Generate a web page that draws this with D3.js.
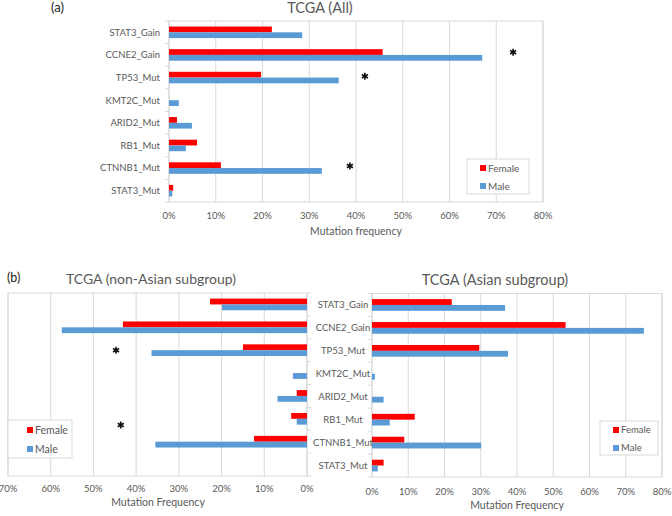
<!DOCTYPE html>
<html>
<head>
<meta charset="utf-8">
<script src="https://cdn.jsdelivr.net/npm/d3@7"></script>
<style>
  body { margin: 0; background: #fff; }
  text { font-family: Lato, "Open Sans", sans-serif; }
</style>
</head>
<body>
<div id="chart"></div>
<script>
// categories, top to bottom
const categories = ["STAT3_Gain", "CCNE2_Gain", "TP53_Mut", "KMT2C_Mut", "ARID2_Mut", "RB1_Mut", "CTNNB1_Mut", "STAT3_Mut"];
const series = ["Female", "Male"];
const colors = ["#ff0000", "#5b9bd5"];

// (a) TCGA (All)
const allFemale = [0.220, 0.457, 0.197, 0.000, 0.017, 0.060, 0.111, 0.009];
const allMale   = [0.285, 0.670, 0.363, 0.021, 0.049, 0.036, 0.327, 0.007];
// (b) non-Asian subgroup
const nonAsianFemale = [0.227, 0.431, 0.150, 0.000, 0.024, 0.037, 0.124, 0.000];
const nonAsianMale   = [0.199, 0.574, 0.364, 0.033, 0.069, 0.024, 0.355, 0.000];
// (b) Asian subgroup
const asianFemale = [0.220, 0.534, 0.296, 0.000, 0.000, 0.118, 0.089, 0.032];
const asianMale   = [0.367, 0.750, 0.375, 0.008, 0.032, 0.049, 0.301, 0.016];

const ticksAll = [0, 0.1, 0.2, 0.3, 0.4, 0.5, 0.6, 0.7, 0.8];
const ticksNonAsian = [0, 0.1, 0.2, 0.3, 0.4, 0.5, 0.6, 0.7];
const ticksAsian = [0, 0.1, 0.2, 0.3, 0.4, 0.5, 0.6, 0.7, 0.8];

// significance marks (value axis position, row, shift in rows)
const starsAll = [
  { cat: "CCNE2_Gain", value: 0.736, shift: -0.12 },
  { cat: "TP53_Mut", value: 0.419, shift: -0.06 },
  { cat: "CTNNB1_Mut", value: 0.387, shift: -0.09 }
];
const starsNonAsian = [
  { cat: "TP53_Mut", value: 0.447, shift: 0 },
  { cat: "RB1_Mut", value: 0.436, shift: 0.27 }
];
const starsAsian = [];

const grey = "#595959";
const gridColor = "#d9d9d9";

const svg = d3.select("#chart").append("svg")
  .attr("width", 672)
  .attr("height", 516);

function drawPanel(p) {
  const x = d3.scaleLinear().domain([0, p.max]).range(p.reversed ? [p.right, p.left] : [p.left, p.right]);
  const y = d3.scaleBand().domain(categories).range([p.top, p.bottom]);
  const sub = d3.scaleBand().domain(series).range([0, y.bandwidth()]).paddingOuter(0.96);
  const g = svg.append("g");

  // plot area border + gridlines
  g.append("rect")
    .attr("x", p.left).attr("y", p.top)
    .attr("width", p.right - p.left).attr("height", p.bottom - p.top)
    .attr("fill", "none").attr("stroke", gridColor);

  g.selectAll(".grid").data(p.ticks).enter().append("line")
    .attr("x1", d => x(d)).attr("x2", d => x(d))
    .attr("y1", p.top).attr("y2", p.bottom)
    .attr("stroke", gridColor);

  // category axis ticks
  const edges = categories.map(c => y(c)).concat([p.bottom]);
  const tickDir = p.reversed ? 4 : -4;
  g.selectAll(".ctick").data(edges).enter().append("line")
    .attr("x1", x(0)).attr("x2", x(0) + tickDir)
    .attr("y1", d => d).attr("y2", d => d)
    .attr("stroke", gridColor);

  // bars
  const rows = categories.map((c, i) => ({ cat: c, vals: [p.female[i], p.male[i]] }));
  const row = g.selectAll(".row").data(rows).enter().append("g")
    .attr("transform", d => "translate(0," + y(d.cat) + ")");
  row.selectAll("rect").data(d => d.vals.map((v, k) => ({ v: v, s: series[k], k: k }))).enter().append("rect")
    .attr("x", d => Math.min(x(0), x(d.v)))
    .attr("width", d => Math.abs(x(d.v) - x(0)))
    .attr("y", d => sub(d.s))
    .attr("height", sub.bandwidth())
    .attr("fill", d => colors[d.k]);

  // value tick labels
  g.selectAll(".vlabel").data(p.ticks).enter().append("text")
    .attr("x", d => x(d)).attr("y", p.tickY)
    .attr("text-anchor", "middle")
    .attr("font-size", 9.5).attr("fill", grey)
    .text(d => d3.format(".0%")(d));

  // axis title
  g.append("text")
    .attr("x", p.axisTitle[0]).attr("y", p.axisTitle[1])
    .attr("text-anchor", "middle")
    .attr("font-size", 10.5).attr("fill", grey)
    .text(p.axisText);

  // category labels
  if (p.catX != null) {
    g.selectAll(".clabel").data(categories).enter().append("text")
      .attr("x", p.catX).attr("y", d => y(d) + y.bandwidth() / 2)
      .attr("dy", "0.35em")
      .attr("text-anchor", p.catAnchor)
      .attr("font-size", p.catSize).attr("fill", grey)
      .text(d => d);
  }

  // chart title
  g.append("text")
    .attr("x", p.title[0]).attr("y", p.title[1])
    .attr("text-anchor", "middle")
    .attr("font-size", p.titleSize).attr("fill", grey)
    .text(p.titleText);

  // stars
  g.selectAll(".star").data(p.stars).enter().append("path")
    .attr("d", d3.symbol(d3.symbolAsterisk, 34))
    .attr("transform", d => "translate(" + x(d.value) + "," + (y(d.cat) + y.bandwidth() * (0.5 + d.shift)) + ")")
    .attr("fill", "none").attr("stroke", "#111").attr("stroke-width", 1.6);

  // legend
  const L = p.legend;
  const lg = g.append("g").attr("transform", "translate(" + L.x + "," + L.y + ")");
  lg.append("rect").attr("width", L.w).attr("height", L.h)
    .attr("fill", "#fff").attr("stroke", gridColor);
  series.forEach((s, k) => {
    lg.append("rect")
      .attr("x", L.sx).attr("y", L.rowY[k] - 3)
      .attr("width", 6).attr("height", 6)
      .attr("fill", colors[k]);
    lg.append("text")
      .attr("x", L.sx + 8).attr("y", L.rowY[k])
      .attr("dy", "0.35em")
      .attr("font-size", L.fs).attr("fill", grey)
      .text(s);
  });
}

// (a)
drawPanel({
  left: 169, right: 543, top: 21, bottom: 202, max: 0.8, reversed: false,
  ticks: ticksAll, female: allFemale, male: allMale, stars: starsAll,
  tickY: 219, axisTitle: [356, 235], axisText: "Mutation frequency",
  catX: 160, catAnchor: "end", catSize: 9.5,
  title: [320, 13], titleText: "TCGA (All)", titleSize: 14.5,
  legend: { x: 467, y: 159, w: 62, h: 35, sx: 13, rowY: [9, 27], fs: 10 }
});

// (b) left: non-Asian, reversed
drawPanel({
  left: 8, right: 307, top: 293, bottom: 476, max: 0.7, reversed: true,
  ticks: ticksNonAsian, female: nonAsianFemale, male: nonAsianMale, stars: starsNonAsian,
  tickY: 492, axisTitle: [158, 506], axisText: "Mutation Frequency",
  catX: null,
  title: [151, 284], titleText: "TCGA (non-Asian subgroup)", titleSize: 14,
  legend: { x: 8, y: 420, w: 64, h: 38, sx: 19, rowY: [10, 29], fs: 10.5 }
});

// (b) right: Asian
drawPanel({
  left: 372, right: 662, top: 293.5, bottom: 477, max: 0.8, reversed: false,
  ticks: ticksAsian, female: asianFemale, male: asianMale, stars: starsAsian,
  tickY: 495, axisTitle: [517, 509], axisText: "Mutation Frequency",
  catX: 343, catAnchor: "middle", catSize: 9.5,
  title: [495, 285], titleText: "TCGA (Asian subgroup)", titleSize: 14.5,
  legend: { x: 600, y: 421, w: 58, h: 34, sx: 13, rowY: [9, 27], fs: 9.5 }
});

// panel letters
svg.append("text").attr("x", 51).attr("y", 12)
  .attr("font-size", 13).attr("fill", "#222").text("(a)");
svg.append("text").attr("x", 7).attr("y", 282)
  .attr("font-size", 12.5).attr("fill", "#222").text("(b)");
</script>
</body>
</html>
